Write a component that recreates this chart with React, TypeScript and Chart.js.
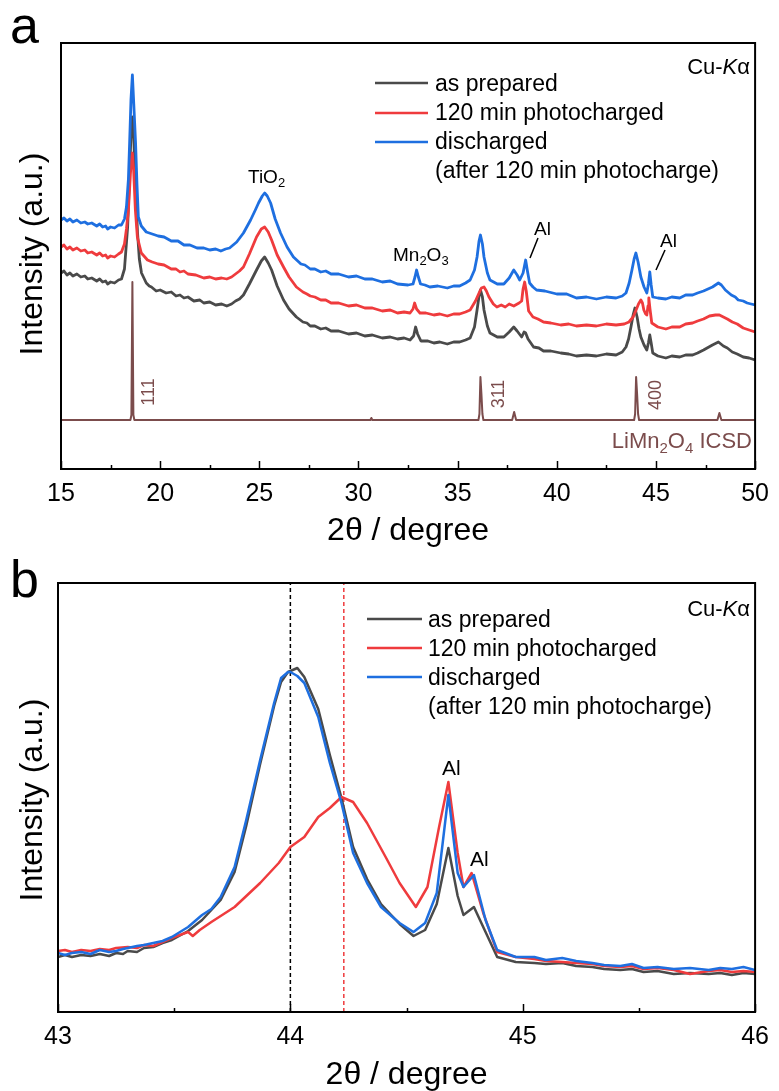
import React, { useEffect, useRef } from 'react';
import { Chart, registerables } from 'chart.js';

Chart.register(...registerables);

type Pt = [number, number];

const FONT = "'Liberation Sans', Arial, sans-serif";
const BLACK = '#4a4a4a';
const RED = '#ef3b3d';
const BLUE = '#1e6fe0';
const BROWN = '#7b4c4c';

// ---------- Panel a (2θ 15–50°, intensity in arbitrary units) ----------
const aXTicks = { min: 15, max: 50, step: 5, minor: 2.5 };
const aYRange = { min: 0, max: 426 };

const aAsPrepared: Pt[] = [
  [15, 196], [15.15, 198], [15.3, 194], [15.45, 196], [15.6, 193], [15.8, 195], [16.0, 192], [16.2, 193], [16.35, 190], [16.55, 191],
  [16.8, 188], [16.95, 190], [17.1, 187], [17.25, 188], [17.35, 185], [17.5, 187], [17.7, 186], [17.9, 189], [18.05, 190],
  [18.2, 200], [18.36, 242], [18.45, 290], [18.53, 335], [18.6, 352], [18.67, 330], [18.76, 280], [18.86, 236], [18.95, 210], [19.06, 196],
  [19.3, 186], [19.45, 183], [19.56, 182], [19.8, 178], [20.0, 179], [20.3, 176], [20.56, 177], [20.8, 173], [21.0, 174], [21.2, 171],
  [21.4, 172], [21.7, 168], [22.0, 169], [22.2, 166], [22.5, 167], [22.8, 164], [23.1, 165], [23.36, 163], [23.6, 165], [23.8, 168],
  [24.0, 170], [24.2, 174], [24.5, 185], [24.86, 199], [25.1, 208], [25.27, 212], [25.45, 206], [25.62, 199], [25.9, 183], [26.22, 169],
  [26.5, 160], [26.87, 152], [27.2, 147], [27.4, 146], [27.57, 143], [27.8, 143], [28.1, 140], [28.35, 141], [28.62, 138], [29.0, 138],
  [29.5, 135], [29.9, 136], [30.32, 133], [30.7, 134], [31.2, 131], [31.6, 132], [31.97, 130], [32.3, 131], [32.6, 129],
  [32.78, 133], [32.88, 142], [32.98, 135], [33.15, 128], [33.5, 128], [33.8, 126], [34.1, 127], [34.48, 125], [34.8, 127], [35.1, 127],
  [35.4, 129], [35.63, 131], [35.85, 142], [35.98, 159],
  [36.08, 173], [36.15, 179], [36.25, 172], [36.33, 159], [36.5, 143], [36.63, 136], [37.0, 132], [37.33, 132], [37.6, 137], [37.83, 142],
  [38.0, 138], [38.23, 132], [38.35, 137], [38.43, 136], [38.55, 130], [38.83, 122], [39.1, 121], [39.33, 118], [39.7, 118], [40.2, 116],
  [40.6, 115], [40.99, 113], [41.5, 114], [42.0, 113], [42.5, 115], [42.99, 114], [43.3, 117], [43.49, 122], [43.62, 130], [43.74, 142],
  [43.85, 154], [43.94, 161], [44.05, 152], [44.15, 140], [44.24, 132],
  [44.4, 124], [44.54, 119], [44.62, 126], [44.69, 134], [44.76, 126], [44.84, 116], [45.1, 113], [45.5, 111], [45.8, 113], [46.2, 112],
  [46.5, 114], [46.85, 114], [47.1, 116], [47.4, 119], [47.85, 124], [48.15, 127], [48.4, 123], [48.6, 121], [48.85, 117], [49.1, 115],
  [49.4, 112], [49.7, 111], [50, 109],
];

const aPhotocharged: Pt[] = [
  [15, 222], [15.15, 224], [15.3, 220], [15.45, 222], [15.6, 219], [15.8, 221], [16.0, 218], [16.2, 219], [16.35, 216], [16.55, 217],
  [16.8, 214], [16.95, 216], [17.1, 213], [17.25, 214], [17.35, 211], [17.5, 213], [17.7, 212], [17.9, 215], [18.05, 217],
  [18.2, 225], [18.3, 240], [18.4, 259], [18.5, 295], [18.56, 312], [18.6, 316], [18.66, 300], [18.75, 259], [18.85, 232], [19.05, 216],
  [19.36, 209], [19.6, 207], [19.9, 205], [20.2, 204], [20.56, 200], [20.8, 200], [21.0, 197], [21.2, 198], [21.4, 195], [21.8, 194],
  [22.2, 191], [22.5, 192], [22.8, 190], [23.1, 191], [23.36, 190], [23.6, 192], [23.8, 195], [24.0, 198], [24.2, 202],
  [24.5, 215], [24.86, 232], [25.1, 240], [25.27, 242], [25.45, 237], [25.62, 229], [25.9, 214], [26.22, 202], [26.5, 192], [26.87, 182],
  [27.2, 177], [27.4, 175], [27.57, 173], [27.8, 172], [28.1, 169], [28.35, 169], [28.62, 166], [29.0, 166], [29.5, 163], [29.9, 164],
  [30.32, 161], [30.7, 161], [31.2, 158], [31.6, 159], [31.97, 156], [32.3, 157], [32.6, 156], [32.75, 160],
  [32.83, 166], [32.93, 160], [33.1, 156], [33.4, 156], [33.8, 154], [34.1, 155], [34.48, 153], [34.8, 155], [35.1, 155], [35.4, 157],
  [35.63, 159], [35.9, 168], [36.08, 176], [36.2, 181],
  [36.33, 182], [36.45, 178], [36.58, 172], [36.8, 165], [36.98, 162], [37.2, 164], [37.4, 162], [37.6, 165], [37.83, 163], [38.1, 166],
  [38.23, 168], [38.3, 180], [38.38, 187], [38.46, 178], [38.58, 158], [38.8, 152], [39.05, 150], [39.33, 147], [39.7, 146], [40.2, 144],
  [40.6, 145], [40.99, 143], [41.5, 144], [42.0, 143], [42.5, 145], [42.99, 144], [43.4, 145],
  [43.64, 147], [43.85, 152], [44.0, 159], [44.12, 165], [44.24, 169], [44.32, 166], [44.39, 159], [44.48, 155], [44.54, 154], [44.6, 163],
  [44.64, 171], [44.7, 160], [44.79, 146], [45.1, 142], [45.5, 140], [45.8, 142], [46.2, 142], [46.5, 145], [46.85, 146], [47.1, 148],
  [47.4, 150], [47.7, 153], [48.0, 154], [48.2, 154], [48.4, 152], [48.6, 150],
  [48.85, 147], [49.1, 145], [49.4, 141], [49.7, 139], [50, 137],
];

const aDischarged: Pt[] = [
  [15, 249], [15.15, 251], [15.3, 248], [15.45, 250], [15.6, 247], [15.8, 249], [16.0, 246], [16.2, 247], [16.35, 245], [16.55, 246],
  [16.8, 243], [16.95, 245], [17.1, 242], [17.25, 243], [17.35, 240], [17.5, 242], [17.7, 241], [17.9, 244], [18.05, 244],
  [18.2, 250], [18.3, 262], [18.4, 290], [18.46, 326], [18.53, 370], [18.6, 394], [18.67, 365], [18.76, 326], [18.83, 285], [18.9, 252],
  [19.05, 243], [19.3, 237], [19.6, 235], [19.9, 233], [20.2, 232], [20.56, 228], [20.9, 228], [21.2, 224], [21.5, 224], [21.86, 221],
  [22.2, 221], [22.5, 219], [22.8, 220], [23.06, 218], [23.3, 220], [23.5, 221], [23.86, 227],
  [24.2, 236], [24.56, 249], [24.8, 259], [24.96, 266], [25.15, 273], [25.27, 276], [25.4, 273], [25.57, 266], [25.8, 250], [26.07, 236],
  [26.4, 222], [26.72, 212], [27.1, 205], [27.3, 204], [27.57, 200], [27.8, 200], [28.1, 197], [28.35, 198], [28.62, 195], [29.0, 195],
  [29.5, 192], [29.9, 193], [30.32, 190], [30.7, 190], [31.2, 187], [31.6, 188], [31.97, 185],
  [32.5, 184], [32.75, 185], [32.85, 192], [32.93, 199], [33.02, 192], [33.13, 185], [33.35, 184], [33.6, 182], [34.0, 183], [34.48, 181],
  [34.8, 183], [35.1, 183], [35.4, 186], [35.63, 189],
  [35.85, 199], [35.98, 212], [36.08, 228], [36.15, 234], [36.25, 225], [36.33, 212], [36.5, 196], [36.63, 189], [37.0, 185], [37.33, 185],
  [37.6, 191], [37.83, 199], [38.0, 194], [38.13, 189], [38.3, 196], [38.43, 209], [38.52, 198], [38.63, 186], [38.8, 182], [38.98, 179],
  [39.4, 178], [40.0, 175], [40.5, 175], [40.99, 171], [41.5, 172], [42.0, 170], [42.5, 172], [42.99, 171], [43.3, 173], [43.49, 176],
  [43.65, 186], [43.79, 199], [43.9, 210], [43.99, 216],
  [44.1, 207], [44.24, 192], [44.4, 182], [44.54, 176], [44.62, 185], [44.69, 197], [44.76, 184], [44.84, 172], [45.1, 171], [45.5, 170],
  [45.8, 172], [46.2, 171], [46.5, 174], [46.85, 174], [47.1, 176], [47.4, 178], [47.85, 182], [48.15, 186], [48.3, 184], [48.5, 179],
  [48.8, 174], [49.0, 172], [49.15, 169], [49.4, 168], [49.6, 166], [49.8, 165], [50, 164],
];

const aICSD: Pt[] = [
  [15, 49], [18.5, 49], [18.55, 54], [18.6, 187], [18.65, 54], [18.7, 49], [30.6, 49], [30.65, 51], [30.7, 49],
  [36.05, 49], [36.1, 55], [36.15, 92], [36.2, 75], [36.25, 55], [36.3, 49], [37.75, 49], [37.85, 57], [37.95, 49],
  [43.9, 49], [43.95, 55], [44.0, 92], [44.05, 75], [44.1, 55], [44.15, 49], [48.1, 49], [48.2, 56], [48.3, 49], [50, 49],
];

// ---------- Panel b (2θ 43–46°) ----------
const bXTicks = { min: 43, max: 46, step: 1, minor: 0.5 };
const bYRange = { min: 0, max: 429 };
const bRefLines = [44.0, 44.23];

const bAsPrepared: Pt[] = [
  [43.0, 55], [43.03, 57], [43.06, 55], [43.1, 57], [43.14, 56], [43.18, 58], [43.22, 56], [43.25, 59], [43.28, 58], [43.3, 61],
  [43.34, 60], [43.37, 64], [43.41, 65], [43.45, 69], [43.49, 72], [43.56, 81],
  [43.62, 92], [43.7, 112], [43.76, 140], [43.81, 186], [43.87, 248], [43.93, 306], [43.96, 330], [43.99, 340], [44.03, 344], [44.06, 335],
  [44.12, 303], [44.17, 257], [44.22, 214], [44.27, 165], [44.33, 133], [44.39, 108], [44.47, 88], [44.53, 76], [44.58, 82], [44.63, 108],
  [44.68, 164], [44.72, 116], [44.745, 97], [44.79, 105], [44.84, 80], [44.89, 55], [44.97, 50], [45.05, 49], [45.1, 48], [45.17, 49],
  [45.23, 46], [45.3, 45], [45.35, 43], [45.42, 42], [45.47, 43], [45.52, 40], [45.58, 41], [45.65, 38], [45.72, 39], [45.8, 38],
  [45.85, 39], [45.9, 37], [45.95, 39], [46.0, 38],
];

const bPhotocharged: Pt[] = [
  [43.0, 61], [43.03, 62], [43.06, 60], [43.1, 62], [43.14, 61], [43.18, 63], [43.22, 62], [43.25, 64], [43.3, 65], [43.34, 64],
  [43.37, 67], [43.41, 66], [43.45, 70], [43.5, 75], [43.56, 80], [43.58, 76],
  [43.61, 82], [43.66, 90], [43.76, 105], [43.87, 129], [43.95, 149], [44.0, 165], [44.06, 175], [44.12, 195], [44.17, 204], [44.22, 215],
  [44.27, 210], [44.33, 189], [44.41, 155], [44.47, 129], [44.54, 105], [44.59, 125], [44.64, 185], [44.68, 230], [44.72, 159], [44.745, 125],
  [44.78, 139], [44.83, 99], [44.89, 60], [44.97, 55], [45.05, 53], [45.1, 51], [45.17, 50], [45.23, 49], [45.3, 48], [45.35, 46],
  [45.42, 45], [45.47, 46], [45.52, 43], [45.58, 44], [45.65, 42], [45.72, 38], [45.8, 41], [45.85, 42],
  [45.9, 40], [45.95, 41], [46.0, 40],
];

const bDischarged: Pt[] = [
  [43.0, 59], [43.03, 57], [43.06, 59], [43.1, 60], [43.14, 58], [43.18, 62], [43.22, 60], [43.25, 61], [43.28, 63], [43.3, 64],
  [43.34, 66], [43.37, 67], [43.41, 69], [43.45, 71], [43.49, 75], [43.56, 85],
  [43.62, 97], [43.66, 103], [43.7, 115], [43.76, 145], [43.81, 192], [43.87, 252], [43.93, 309], [43.96, 334], [43.99, 340], [44.0, 340],
  [44.03, 336], [44.06, 329], [44.12, 295], [44.17, 249], [44.22, 209], [44.27, 159], [44.33, 129], [44.39, 105], [44.47, 89], [44.53, 80],
  [44.58, 89], [44.63, 119], [44.68, 217], [44.72, 139], [44.745, 125], [44.79, 137], [44.84, 92], [44.89, 62], [44.97, 55], [45.05, 55],
  [45.1, 52], [45.17, 54], [45.23, 51], [45.3, 49], [45.35, 47], [45.42, 46], [45.47, 48], [45.52, 44], [45.58, 45], [45.65, 43],
  [45.72, 44], [45.8, 42], [45.85, 44], [45.9, 43], [45.95, 45], [46.0, 42],
];

const legendLabels = ['as prepared', '120 min photocharged', 'discharged', '(after 120 min photocharge)'];
const legendColors = [BLACK, RED, BLUE];

// ---------- drawing helpers ----------
type Part = [string, 'n' | 's' | 'i'];

function rich(ctx: CanvasRenderingContext2D, parts: Part[], x: number, y: number, size: number, align: 'left' | 'right' | 'center', color: string) {
  const fontFor = (k: string) =>
    k === 's' ? `${Math.round(size * 0.7)}px ${FONT}` : k === 'i' ? `italic ${size}px ${FONT}` : `${size}px ${FONT}`;
  let total = 0;
  for (const [t, k] of parts) {
    ctx.font = fontFor(k);
    total += ctx.measureText(t).width;
  }
  let cx = align === 'right' ? x - total : align === 'center' ? x - total / 2 : x;
  ctx.textAlign = 'left';
  ctx.textBaseline = 'alphabetic';
  ctx.fillStyle = color;
  for (const [t, k] of parts) {
    ctx.font = fontFor(k);
    ctx.fillText(t, cx, k === 's' ? y + size * 0.22 : y);
    cx += ctx.measureText(t).width;
  }
}

function txt(ctx: CanvasRenderingContext2D, s: string, x: number, y: number, size: number, align: CanvasTextAlign = 'left', color = '#000') {
  ctx.font = `${size}px ${FONT}`;
  ctx.textAlign = align;
  ctx.textBaseline = 'alphabetic';
  ctx.fillStyle = color;
  ctx.fillText(s, x, y);
}

function rotTxt(ctx: CanvasRenderingContext2D, s: string, x: number, y: number, size: number, color: string, baseline: CanvasTextBaseline = 'middle') {
  ctx.save();
  ctx.translate(x, y);
  ctx.rotate(-Math.PI / 2);
  ctx.font = `${size}px ${FONT}`;
  ctx.textAlign = 'center';
  ctx.textBaseline = baseline;
  ctx.fillStyle = color;
  ctx.fillText(s, 0, 0);
  ctx.restore();
}

function line(ctx: CanvasRenderingContext2D, x1: number, y1: number, x2: number, y2: number, color: string, w: number) {
  ctx.beginPath();
  ctx.moveTo(x1, y1);
  ctx.lineTo(x2, y2);
  ctx.strokeStyle = color;
  ctx.lineWidth = w;
  ctx.stroke();
}

function frameAndTicks(chart: any, t: { min: number; max: number; step: number; minor: number }) {
  const ctx = chart.ctx as CanvasRenderingContext2D;
  const ca = chart.chartArea;
  const xs = chart.scales.x;
  const n = Math.round((t.max - t.min) / t.minor);
  for (let i = 0; i <= n; i++) {
    const v = t.min + i * t.minor;
    const major = Math.abs(v / t.step - Math.round(v / t.step)) < 1e-6;
    const px = Math.round(xs.getPixelForValue(v)) + 0.5;
    line(ctx, px, ca.bottom, px, ca.bottom - (major ? 8 : 4), '#000', 1.5);
  }
  ctx.strokeStyle = '#000';
  ctx.lineWidth = 2;
  ctx.strokeRect(ca.left, ca.top, ca.right - ca.left, ca.bottom - ca.top);
}

function drawLegend(ctx: CanvasRenderingContext2D, x1: number, x2: number, tx: number, lineYs: number[], baseYs: number[]) {
  for (let i = 0; i < 3; i++) line(ctx, x1, lineYs[i], x2, lineYs[i], legendColors[i], 2.5);
  for (let i = 0; i < 4; i++) txt(ctx, legendLabels[i], tx, baseYs[i], 23);
}

const decorA = {
  id: 'decorA',
  afterDatasetsDraw(chart: any) {
    const ctx = chart.ctx as CanvasRenderingContext2D;
    const ca = chart.chartArea;
    ctx.save();
    frameAndTicks(chart, aXTicks);
    txt(ctx, 'a', 10, 43, 52);
    rotTxt(ctx, 'Intensity (a.u.)', 42, 254, 32, '#000', 'alphabetic');
    txt(ctx, '2θ / degree', (ca.left + ca.right) / 2, 540, 32, 'center');
    rich(ctx, [['Cu-', 'n'], ['K', 'i'], ['α', 'n']], 750, 74, 22, 'right', '#000');
    drawLegend(ctx, 375, 428, 435, [83, 113, 142], [91, 120, 149, 178]);
    rich(ctx, [['TiO', 'n'], ['2', 's']], 248, 183, 19, 'left', '#000');
    rich(ctx, [['Mn', 'n'], ['2', 's'], ['O', 'n'], ['3', 's']], 393, 261, 19, 'left', '#000');
    txt(ctx, 'Al', 534, 235, 19);
    line(ctx, 538, 238, 530, 258, '#000', 1.5);
    txt(ctx, 'Al', 660, 247, 19);
    line(ctx, 665, 250, 656, 270, '#000', 1.5);
    rotTxt(ctx, '111', 149, 392, 18, BROWN);
    rotTxt(ctx, '311', 499, 394, 18, BROWN);
    rotTxt(ctx, '400', 656, 395, 18, BROWN);
    rich(ctx, [['LiMn', 'n'], ['2', 's'], ['O', 'n'], ['4', 's'], [' ICSD', 'n']], 752, 448, 22, 'right', BROWN);
    ctx.restore();
  },
};

const B_OFF = 545;
const decorB = {
  id: 'decorB',
  afterDatasetsDraw(chart: any) {
    const ctx = chart.ctx as CanvasRenderingContext2D;
    const ca = chart.chartArea;
    ctx.save();
    frameAndTicks(chart, bXTicks);
    txt(ctx, 'b', 10, 597 - B_OFF, 52);
    rotTxt(ctx, 'Intensity (a.u.)', 42, 800 - B_OFF, 32, '#000', 'alphabetic');
    txt(ctx, '2θ / degree', (ca.left + ca.right) / 2, 1084 - B_OFF, 32, 'center');
    rich(ctx, [['Cu-', 'n'], ['K', 'i'], ['α', 'n']], 750, 616 - B_OFF, 22, 'right', '#000');
    drawLegend(ctx, 367, 422, 428, [619 - B_OFF, 648 - B_OFF, 677 - B_OFF], [627 - B_OFF, 656 - B_OFF, 685 - B_OFF, 714 - B_OFF]);
    txt(ctx, 'Al', 442, 775 - B_OFF, 21);
    txt(ctx, 'Al', 470, 866 - B_OFF, 21);
    ctx.restore();
  },
};

const toXY = (d: Pt[]) => d.map(([x, y]) => ({ x, y }));

function lineDs(label: string, d: Pt[], color: string, width: number, extra: any = {}) {
  return {
    label,
    data: toXY(d),
    borderColor: color,
    backgroundColor: color,
    borderWidth: width,
    borderJoinStyle: 'round' as const,
    pointRadius: 0,
    tension: 0,
    fill: false,
    ...extra,
  };
}

function makeOptions(t: { min: number; max: number; step: number }, yr: { min: number; max: number }, pad: any, xHeight: number) {
  return {
    responsive: false,
    animation: false as const,
    devicePixelRatio: 1,
    layout: { padding: pad },
    plugins: { legend: { display: false }, tooltip: { enabled: false } },
    scales: {
      x: {
        type: 'linear' as const,
        min: t.min,
        max: t.max,
        grid: { display: false, drawTicks: false },
        border: { display: false },
        ticks: {
          stepSize: t.step,
          autoSkip: false,
          maxRotation: 0,
          padding: 10,
          color: '#000',
          font: { size: 25, family: FONT },
        },
        afterFit: (s: any) => {
          s.height = xHeight;
        },
      },
      y: { display: false, min: yr.min, max: yr.max },
    },
  };
}

export default function App() {
  const refA = useRef<HTMLCanvasElement>(null);
  const refB = useRef<HTMLCanvasElement>(null);

  useEffect(() => {
    const chartA = new Chart(refA.current!, {
      type: 'line',
      data: {
        datasets: [
          lineDs('discharged (after 120 min photocharge)', aDischarged, BLUE, 2.8),
          lineDs('120 min photocharged', aPhotocharged, RED, 2.8),
          lineDs('as prepared', aAsPrepared, BLACK, 2.8),
          lineDs('LiMn2O4 ICSD', aICSD, BROWN, 2),
        ],
      },
      // canvas is 553 tall; the extra 8 px below holds the title's descenders (x scale keeps chart bottom at 469)
      options: makeOptions(aXTicks, aYRange, { left: 61, right: 19, top: 43, bottom: 8 }, 76) as any,
      plugins: [decorA],
    });
    const chartB = new Chart(refB.current!, {
      type: 'line',
      data: {
        datasets: [
          lineDs('discharged (after 120 min photocharge)', bDischarged, BLUE, 2.5),
          lineDs('120 min photocharged', bPhotocharged, RED, 2.5),
          lineDs('as prepared', bAsPrepared, BLACK, 2.5),
          lineDs('44.00°', [[bRefLines[0], bYRange.min], [bRefLines[0], bYRange.max]], '#000', 1.5, { borderDash: [4, 3] }),
          lineDs('44.23°', [[bRefLines[1], bYRange.min], [bRefLines[1], bYRange.max]], RED, 1.5, { borderDash: [4, 3] }),
        ],
      },
      options: makeOptions(bXTicks, bYRange, { left: 58, right: 19, top: 38, bottom: 0 }, 79) as any,
      plugins: [decorB],
    });
    return () => {
      chartA.destroy();
      chartB.destroy();
    };
  }, []);

  return (
    <div style={{ position: 'absolute', left: 0, top: 0, width: 779, height: 1091, background: '#fff' }}>
      <canvas ref={refA} width={779} height={553} style={{ position: 'absolute', left: 0, top: 0, width: 779, height: 553 }} />
      <canvas ref={refB} width={779} height={546} style={{ position: 'absolute', left: 0, top: 545, width: 779, height: 546 }} />
    </div>
  );
}
